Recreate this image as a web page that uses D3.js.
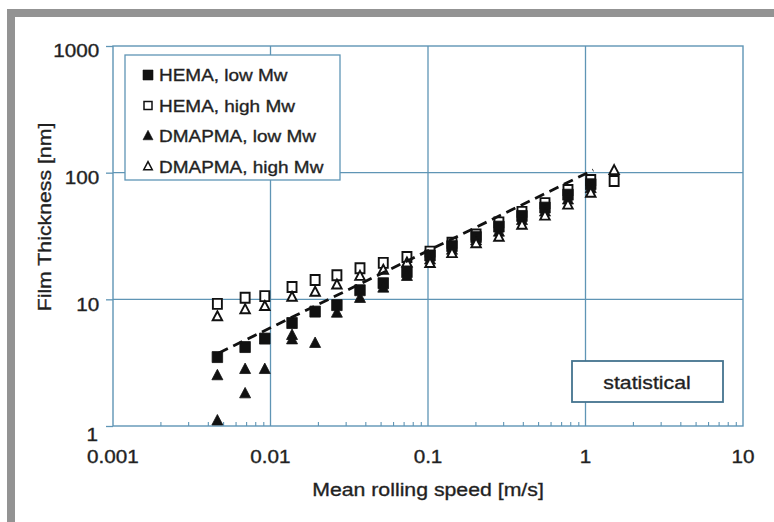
<!DOCTYPE html>
<html>
<head>
<meta charset="utf-8">
<script src="https://cdn.jsdelivr.net/npm/d3@7"></script>
<style>
  body { margin: 0; background: #fff; }
  svg { display: block; font-family: "Liberation Sans", Arial, sans-serif; }
  text { stroke: #2a2a2a; stroke-width: 0.35px; }
</style>
</head>
<body>
<svg id="chart" width="774" height="522"></svg>
<script>
// values
var speeds = [0.0046, 0.0069, 0.0092, 0.0137, 0.0192, 0.0264, 0.037, 0.052, 0.0735, 0.103, 0.142, 0.202, 0.282, 0.395, 0.553, 0.774, 1.08, 1.52];
var hemaLow = [3.5, 4.2, 4.9, 6.5, 8.0, 9.0, 11.8, 13.4, 16.4, 22.2, 26.3, 31, 37.5, 45.5, 53, 67, 81, null];
var hemaHigh = [9.2, 10.3, 10.6, 12.5, 14.2, 15.5, 17.6, 19.4, 21.6, 23.8, 28, 32.5, 40.5, 49, 57.5, 73, 87.5, 86];
var dmapmaLow = [2.5, 2.8, 2.8, 5.2, 4.5, 7.8, 10.2, 12.3, 15.2, 20.5, 24.5, 29, 34, 42, 49, 61, 75, null];
var dmapmaHigh = [7.3, 8.3, 8.8, 10.4, 11.4, 13, 15.2, 17, 19.4, 19.2, 23, 27.5, 31, 38.5, 45.5, 55.5, 69, 104];
var dmapmaLowExtraSpeeds = [0.0046, 0.0069, 0.0137];
var dmapmaLowExtraValues = [1.1, 1.8, 4.8];
var fitSpeeds = [0.0047, 1.12];
var fitValues = [3.77, 105];

var xTicks = [0.001, 0.01, 0.1, 1, 10];
var xTickLabels = ["0.001", "0.01", "0.1", "1", "10"];
var yTicks = [1, 10, 100, 1000];
var yTickLabels = ["1", "10", "100", "1000"];
var legendLabels = ["HEMA, low Mw", "HEMA, high Mw", "DMAPMA, low Mw", "DMAPMA, high Mw"];

var svg = d3.select("#chart");
var gridColor = "#5f95b5";
var ink = "#1e1e1e";
var stretch = "scale(1.15,1)";

var x = d3.scaleLog().domain([0.001, 10]).range([113, 743]);
var y = d3.scaleLog().domain([1, 1000]).range([426, 46]);

// grey frame of the scanned figure
svg.append("rect").attr("x", 7).attr("y", 9).attr("width", 767).attr("height", 8).attr("fill", "#939393");
svg.append("rect").attr("x", 7).attr("y", 9).attr("width", 8).attr("height", 513).attr("fill", "#939393");

// gridlines
svg.append("g").selectAll("line").data([0.01, 0.1, 1]).enter().append("line")
  .attr("x1", function(d) { return x(d); }).attr("x2", function(d) { return x(d); })
  .attr("y1", y(1000)).attr("y2", y(1))
  .attr("stroke", gridColor).attr("stroke-width", 1.3);
svg.append("g").selectAll("line").data([10, 100]).enter().append("line")
  .attr("y1", function(d) { return y(d); }).attr("y2", function(d) { return y(d); })
  .attr("x1", x(0.001)).attr("x2", x(10))
  .attr("stroke", gridColor).attr("stroke-width", 1.3);

// minor ticks along the bottom, pointing in
var minor = [];
[0.001, 0.01, 0.1, 1].forEach(function(d) {
  for (var k = 2; k <= 9; k++) minor.push(d * k);
});
var bottomAxis = svg.append("g").attr("transform", "translate(0," + y(1) + ")")
  .call(d3.axisBottom(x).tickValues(minor).tickSize(-4).tickFormat(""));
bottomAxis.select(".domain").remove();
bottomAxis.selectAll("line").attr("stroke", gridColor).attr("stroke-width", 1.1);

// left axis ticks + labels
var leftAxis = svg.append("g").attr("transform", "translate(" + x(0.001) + ",0)")
  .call(d3.axisLeft(y).tickValues(yTicks).tickSize(7).tickPadding(5)
    .tickFormat(function(d, i) { return yTickLabels[i]; }));
leftAxis.select(".domain").remove();
leftAxis.selectAll("line").attr("stroke", gridColor).attr("stroke-width", 1.3);
leftAxis.selectAll("text")
  .attr("fill", ink).attr("font-size", 18).attr("font-family", "Liberation Sans, Arial, sans-serif")
  .attr("dy", "0.6em")
  .attr("transform", stretch);
leftAxis.selectAll("text").filter(function(d) { return d === 1; })
  .attr("x", -13).attr("dy", "0.78em");

// x tick labels
svg.append("g").selectAll("text").data(xTicks).enter().append("text")
  .attr("transform", function(d) { return "translate(" + x(d) + ",463) " + stretch; })
  .attr("text-anchor", "middle")
  .attr("font-size", 18).attr("fill", ink)
  .text(function(d, i) { return xTickLabels[i]; });

// plot frame
svg.append("rect")
  .attr("x", x(0.001)).attr("y", y(1000))
  .attr("width", x(10) - x(0.001)).attr("height", y(1) - y(1000))
  .attr("fill", "none").attr("stroke", gridColor).attr("stroke-width", 1.4);

// axis titles
svg.append("text")
  .attr("transform", "translate(428,496) " + stretch)
  .attr("text-anchor", "middle").attr("font-size", 18.5).attr("fill", ink)
  .text("Mean rolling speed [m/s]");
svg.append("text")
  .attr("transform", "translate(51,217) rotate(-90) " + stretch)
  .attr("text-anchor", "middle").attr("font-size", 18.5).attr("fill", ink)
  .text("Film Thickness [nm]");

// marker shapes
function squarePath(w, h) {
  return "M" + (-w / 2) + "," + (-h / 2) + "h" + w + "v" + h + "h" + (-w) + "Z";
}
function trianglePath(s) {
  var h = s * 0.95;
  return "M0," + (-h * 0.6) + "L" + (s / 2) + "," + (h * 0.4) + "L" + (-s / 2) + "," + (h * 0.4) + "Z";
}

function points(xs, ys) {
  var out = [];
  for (var i = 0; i < xs.length; i++) {
    if (ys[i] != null) out.push([xs[i], ys[i]]);
  }
  return out;
}

function drawMarkers(data, path, filled) {
  svg.append("g").selectAll("path").data(data).enter().append("path")
    .attr("transform", function(d) { return "translate(" + x(d[0]) + "," + y(d[1]) + ")"; })
    .attr("d", path)
    .attr("fill", filled ? "#111" : "#fff")
    .attr("stroke", "#111")
    .attr("stroke-width", filled ? 0.8 : 1.9);
}

// open squares underneath, filled marks over them, open triangles on top
drawMarkers(points(speeds, hemaHigh), squarePath(9, 10), false);
drawMarkers(points(speeds, hemaLow), squarePath(10.5, 11), true);
drawMarkers(points(speeds, dmapmaLow).concat(points(dmapmaLowExtraSpeeds, dmapmaLowExtraValues)), trianglePath(11), true);
drawMarkers(points(speeds, dmapmaHigh), trianglePath(9.5), false);

// dashed fit line
svg.append("path")
  .datum(points(fitSpeeds, fitValues))
  .attr("d", d3.line().x(function(d) { return x(d[0]); }).y(function(d) { return y(d[1]); }))
  .attr("fill", "none").attr("stroke", "#111").attr("stroke-width", 2.8)
  .attr("stroke-dasharray", "10,6");

// legend
var legend = svg.append("g");
legend.append("rect").attr("x", 125).attr("y", 55).attr("width", 215).attr("height", 125)
  .attr("fill", "#fff").attr("stroke", gridColor).attr("stroke-width", 1.3);
var legendShapes = [squarePath(10, 10), squarePath(8, 8), trianglePath(10), trianglePath(8.5)];
var legendFilled = [true, false, true, false];
legendLabels.forEach(function(label, i) {
  var cy = 75 + i * 30.5;
  legend.append("path")
    .attr("transform", "translate(148," + cy + ")")
    .attr("d", legendShapes[i])
    .attr("fill", legendFilled[i] ? "#111" : "#fff")
    .attr("stroke", "#111").attr("stroke-width", legendFilled[i] ? 0.6 : 1.5);
  legend.append("text")
    .attr("transform", "translate(159," + (cy + 6) + ") " + stretch)
    .attr("font-size", 16.5).attr("fill", ink)
    .text(label);
});

// "statistical" box
svg.append("rect").attr("x", 572).attr("y", 361).attr("width", 151).attr("height", 41)
  .attr("fill", "#fff").attr("stroke", "#44738e").attr("stroke-width", 1.8);
svg.append("text")
  .attr("transform", "translate(647,389) " + stretch)
  .attr("text-anchor", "middle").attr("font-size", 18.5).attr("fill", ink)
  .text("statistical");
</script>
</body>
</html>
